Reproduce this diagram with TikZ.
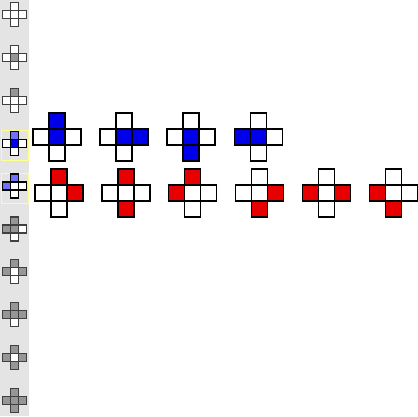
\documentclass[tikz,border=0pt]{standalone}
\usepackage{tikz}
\usetikzlibrary{positioning}
\definecolor{stripgray}{RGB}{228,228,228}
\definecolor{icongray}{RGB}{64,64,64}
\definecolor{iconfill}{RGB}{150,150,150}
\definecolor{selblue}{RGB}{0,0,235}
\definecolor{lightblue}{RGB}{112,112,255}
\definecolor{selred}{RGB}{230,0,0}
\definecolor{selyellow}{RGB}{255,255,140}
\tikzstyle{cell} = [rectangle, minimum size=16pt, inner sep=0pt, 
outer sep=0pt, draw=black, line width=1.7pt, fill=white]
\tikzstyle{icell} = [rectangle, minimum size=8pt, inner sep=0pt, 
outer sep=0pt, draw=icongray, line width=1.3pt, fill=white]
\tikzstyle{selcell} = [icell, draw=black]
\tikzstyle{selbox} = [rectangle, draw=selyellow, line width=1pt, 
minimum width=26.7pt, minimum height=30pt, inner sep=0pt]
\begin{document}
\begin{tikzpicture}[x=1pt, y=1pt]
\useasboundingbox (0,0) rectangle (418,416);
\fill [stripgray] (0,0) rectangle (29,416);

%-------icon strip-------------------
\node (sel4) [selbox] at (14.7,270.7) {};
\node (sel5) [selbox] at (14.7,227.7) {};

\node (i1c) [icell] at (14.3,401.4) {};
\node (i1t) [icell, above=0pt of i1c] {};
\node (i1l) [icell, left=0pt of i1c] {};
\node (i1r) [icell, right=0pt of i1c] {};
\node (i1b) [icell, below=0pt of i1c] {};

\node (i2c) [icell, fill=iconfill] at (14.3,358.6) {};
\node (i2t) [icell, above=0pt of i2c] {};
\node (i2l) [icell, left=0pt of i2c] {};
\node (i2r) [icell, right=0pt of i2c] {};
\node (i2b) [icell, below=0pt of i2c] {};

\node (i3c) [icell] at (14.3,315.7) {};
\node (i3t) [icell, fill=iconfill, above=0pt of i3c] {};
\node (i3l) [icell, left=0pt of i3c] {};
\node (i3r) [icell, right=0pt of i3c] {};
\node (i3b) [icell, below=0pt of i3c] {};

\node (i4c) [selcell, fill=selblue] at (14.3,272.8) {};
\node (i4t) [selcell, fill=lightblue, above=0pt of i4c] {};
\node (i4l) [selcell, left=0pt of i4c] {};
\node (i4r) [selcell, right=0pt of i4c] {};
\node (i4b) [selcell, below=0pt of i4c] {};

\node (i5c) [selcell] at (14.3,230) {};
\node (i5t) [selcell, fill=lightblue, above=0pt of i5c] {};
\node (i5l) [selcell, fill=lightblue, left=0pt of i5c] {};
\node (i5r) [selcell, right=0pt of i5c] {};
\node (i5b) [selcell, below=0pt of i5c] {};

\node (i6c) [icell, fill=iconfill] at (14.3,187.1) {};
\node (i6t) [icell, fill=iconfill, above=0pt of i6c] {};
\node (i6l) [icell, fill=iconfill, left=0pt of i6c] {};
\node (i6r) [icell, right=0pt of i6c] {};
\node (i6b) [icell, below=0pt of i6c] {};

\node (i7c) [icell] at (14.3,144.3) {};
\node (i7t) [icell, fill=iconfill, above=0pt of i7c] {};
\node (i7l) [icell, fill=iconfill, left=0pt of i7c] {};
\node (i7r) [icell, fill=iconfill, right=0pt of i7c] {};
\node (i7b) [icell, below=0pt of i7c] {};

\node (i8c) [icell, fill=iconfill] at (14.3,101.4) {};
\node (i8t) [icell, fill=iconfill, above=0pt of i8c] {};
\node (i8l) [icell, fill=iconfill, left=0pt of i8c] {};
\node (i8r) [icell, fill=iconfill, right=0pt of i8c] {};
\node (i8b) [icell, below=0pt of i8c] {};

\node (i9c) [icell] at (14.3,58.6) {};
\node (i9t) [icell, fill=iconfill, above=0pt of i9c] {};
\node (i9l) [icell, fill=iconfill, left=0pt of i9c] {};
\node (i9r) [icell, fill=iconfill, right=0pt of i9c] {};
\node (i9b) [icell, fill=iconfill, below=0pt of i9c] {};

\node (i10c) [icell, fill=iconfill] at (14.3,15.7) {};
\node (i10t) [icell, fill=iconfill, above=0pt of i10c] {};
\node (i10l) [icell, fill=iconfill, left=0pt of i10c] {};
\node (i10r) [icell, fill=iconfill, right=0pt of i10c] {};
\node (i10b) [icell, fill=iconfill, below=0pt of i10c] {};

%-------blue row-------------------
\node (b1c) [cell, fill=selblue] at (57,279) {};
\node (b1t) [cell, fill=selblue, above=0pt of b1c] {};
\node (b1l) [cell, left=0pt of b1c] {};
\node (b1r) [cell, right=0pt of b1c] {};
\node (b1b) [cell, below=0pt of b1c] {};

\node (b2c) [cell, fill=selblue] at (124,279) {};
\node (b2t) [cell, above=0pt of b2c] {};
\node (b2l) [cell, left=0pt of b2c] {};
\node (b2r) [cell, fill=selblue, right=0pt of b2c] {};
\node (b2b) [cell, below=0pt of b2c] {};

\node (b3c) [cell, fill=selblue] at (191,279) {};
\node (b3t) [cell, above=0pt of b3c] {};
\node (b3l) [cell, left=0pt of b3c] {};
\node (b3r) [cell, right=0pt of b3c] {};
\node (b3b) [cell, fill=selblue, below=0pt of b3c] {};

\node (b4c) [cell, fill=selblue] at (258.5,279) {};
\node (b4t) [cell, above=0pt of b4c] {};
\node (b4l) [cell, fill=selblue, left=0pt of b4c] {};
\node (b4r) [cell, right=0pt of b4c] {};
\node (b4b) [cell, below=0pt of b4c] {};

%-------red row-------------------
\node (r1c) [cell] at (58.7,223) {};
\node (r1t) [cell, fill=selred, above=0pt of r1c] {};
\node (r1l) [cell, left=0pt of r1c] {};
\node (r1r) [cell, fill=selred, right=0pt of r1c] {};
\node (r1b) [cell, below=0pt of r1c] {};

\node (r2c) [cell] at (125.7,223) {};
\node (r2t) [cell, fill=selred, above=0pt of r2c] {};
\node (r2l) [cell, left=0pt of r2c] {};
\node (r2r) [cell, right=0pt of r2c] {};
\node (r2b) [cell, fill=selred, below=0pt of r2c] {};

\node (r3c) [cell] at (192.5,223) {};
\node (r3t) [cell, fill=selred, above=0pt of r3c] {};
\node (r3l) [cell, fill=selred, left=0pt of r3c] {};
\node (r3r) [cell, right=0pt of r3c] {};
\node (r3b) [cell, below=0pt of r3c] {};

\node (r4c) [cell] at (259.6,223) {};
\node (r4t) [cell, above=0pt of r4c] {};
\node (r4l) [cell, left=0pt of r4c] {};
\node (r4r) [cell, fill=selred, right=0pt of r4c] {};
\node (r4b) [cell, fill=selred, below=0pt of r4c] {};

\node (r5c) [cell] at (326.4,223) {};
\node (r5t) [cell, above=0pt of r5c] {};
\node (r5l) [cell, fill=selred, left=0pt of r5c] {};
\node (r5r) [cell, fill=selred, right=0pt of r5c] {};
\node (r5b) [cell, below=0pt of r5c] {};

\node (r6c) [cell] at (393.6,223) {};
\node (r6t) [cell, above=0pt of r6c] {};
\node (r6l) [cell, fill=selred, left=0pt of r6c] {};
\node (r6r) [cell, right=0pt of r6c] {};
\node (r6b) [cell, fill=selred, below=0pt of r6c] {};

\end{tikzpicture}
\end{document}
